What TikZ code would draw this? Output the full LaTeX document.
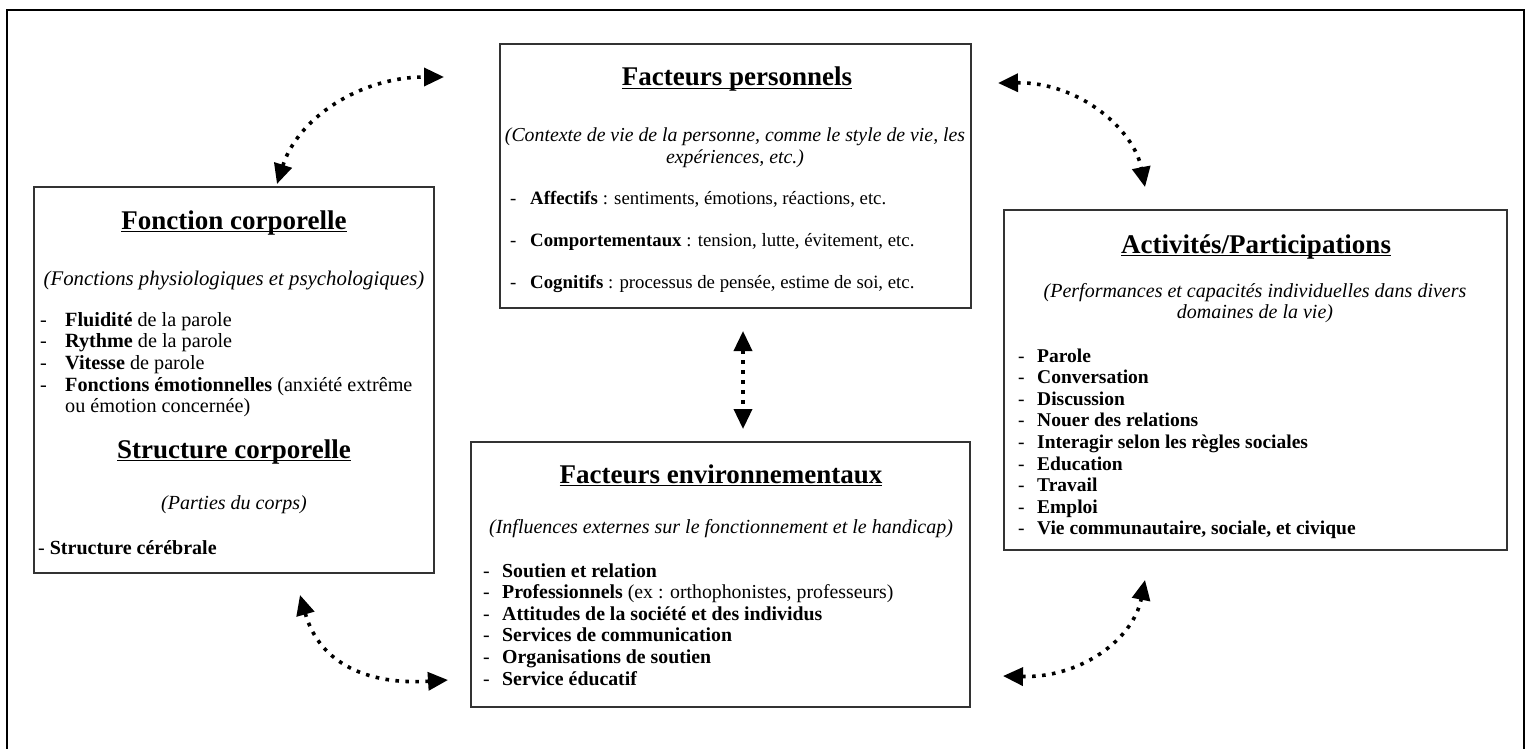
\documentclass[tikz,border=0pt]{standalone}
\usepackage{fontspec}
\setmainfont{Liberation Serif}
\usetikzlibrary{arrows.meta}
\newcommand\ulin[1]{\setbox0\hbox{#1}\rlap{\rule[-3pt]{\wd0}{1.3pt}}\box0}
\newcommand\rows[2]{\begin{tabular}[t]{@{}#1@{}}#2\end{tabular}}
\newcommand\dsh[1][19pt]{\makebox[#1][l]{-}}
\begin{document}
\begin{tikzpicture}[x=1pt,y=-1pt,
  box/.style={draw=black!80, line width=1.4pt, inner sep=0pt},
  ttl/.style={anchor=base, inner sep=0pt, font=\fontsize{27}{30}\selectfont\bfseries},
  sub/.style={anchor=base, inner sep=0pt, font=\fontsize{20}{21.6}\selectfont\itshape},
  lst/.style={anchor=base west, inner sep=0pt, font=\fontsize{19.5}{21.6}\selectfont},
  dotarrow/.style={line width=3.6pt, dash pattern=on 3.6pt off 6.4pt,
    {Triangle[length=20pt,width=18pt]}-{Triangle[length=20pt,width=18pt]}}]
\useasboundingbox (0,0) rectangle (1531,749);
\draw[line width=2pt] (7,760) -- (7,10) -- (1524,10) -- (1524,760);

% boxes
\node[box, minimum width=400pt, minimum height=386pt] (fc) at (234,380) {};
\node[box, minimum width=471pt, minimum height=264pt] (fp) at (735.5,176) {};
\node[box, minimum width=499pt, minimum height=265pt] (fe) at (720.5,574.5) {};
\node[box, minimum width=503pt, minimum height=340pt] (ap) at (1255.5,380) {};

% Fonction corporelle
\node[ttl] (fct) at (234,229) {\ulin{Fonction corporelle}};
\node[sub, font=\fontsize{20.8}{21.6}\selectfont\itshape] (fcs) at (234,285) {(Fonctions physiologiques et psychologiques)};
\node[lst, font=\fontsize{20.2}{21.7}\selectfont] (fcl) at (40,326) {\rows{l}{\dsh[25pt]\textbf{Fluidité} de la parole\\
  \dsh[25pt]\textbf{Rythme} de la parole\\
  \dsh[25pt]\textbf{Vitesse} de parole\\
  \dsh[25pt]\textbf{Fonctions émotionnelles} (anxiété extrême\\
  \hspace{25pt}ou émotion concernée)}};
\node[ttl] (sct) at (234,458) {\ulin{Structure corporelle}};
\node[sub] (scs) at (234,509) {(Parties du corps)};
\node[lst, font=\fontsize{20}{21.6}\selectfont] (scl) at (38,554) {- \textbf{Structure cérébrale}};

% Facteurs personnels
\node[ttl] (fpt) at (737,86) {\ulin{Facteurs personnels}};
\node[sub, font=\fontsize{19.8}{21.6}\selectfont\itshape] (fps) at (735,142) {\rows{c}{(Contexte de vie de la personne, comme le style de vie, les\\ expériences, etc.)}};
\node[lst, font=\fontsize{18.8}{21.6}\selectfont] (fpl1) at (510,204) {\dsh[20pt]\textbf{Affectifs} : sentiments, émotions, réactions, etc.};
\node[lst, font=\fontsize{18.8}{21.6}\selectfont] (fpl2) at (510,246) {\dsh[20pt]\textbf{Comportementaux} : tension, lutte, évitement, etc.};
\node[lst, font=\fontsize{18.8}{21.6}\selectfont] (fpl3) at (510,288) {\dsh[20pt]\textbf{Cognitifs} : processus de pensée, estime de soi, etc.};

% Facteurs environnementaux
\node[ttl] (fet) at (721,483) {\ulin{Facteurs environnementaux}};
\node[sub] (fes) at (721,533) {(Influences externes sur le fonctionnement et le handicap)};
\node[lst, font=\fontsize{19.8}{21.6}\selectfont] (fel) at (483,577) {\rows{l}{\dsh\textbf{Soutien et relation}\\
  \dsh\textbf{Professionnels} (ex : orthophonistes, professeurs)\\
  \dsh\textbf{Attitudes de la société et des individus}\\
  \dsh\textbf{Services de communication}\\
  \dsh\textbf{Organisations de soutien}\\
  \dsh\textbf{Service éducatif}}};

% Activites/Participations
\node[ttl] (apt) at (1256,253) {\ulin{Activités/Participations}};
\node[sub] (aps) at (1255,297) {\rows{c}{(Performances et capacités individuelles dans divers\\ domaines de la vie)}};
\node[lst] (apl) at (1018,362) {\rows{l}{\dsh\textbf{Parole}\\
  \dsh\textbf{Conversation}\\
  \dsh\textbf{Discussion}\\
  \dsh\textbf{Nouer des relations}\\
  \dsh\textbf{Interagir selon les règles sociales}\\
  \dsh\textbf{Education}\\
  \dsh\textbf{Travail}\\
  \dsh\textbf{Emploi}\\
  \dsh\textbf{Vie communautaire, sociale, et civique}}};

% arrows
\coordinate (a1s) at (277,184);
\coordinate (a1e) at (444,77);
\coordinate (a2s) at (998,83);
\coordinate (a2e) at (1145,187);
\coordinate (a3s) at (300,595);
\coordinate (a3e) at (448,680);
\coordinate (a4s) at (1003,676);
\coordinate (a4e) at (1145,580);
\coordinate (a5s) at (743,331);
\coordinate (a5e) at (743,429);
\draw[dotarrow] (a1s) .. controls (298,118) and (360,77) .. (a1e);
\draw[dotarrow] (a2s) .. controls (1080,82) and (1134,130) .. (a2e);
\draw[dotarrow] (a3s) .. controls (320,665) and (370,685) .. (a3e);
\draw[dotarrow] (a4s) .. controls (1080,678) and (1133,640) .. (a4e);
\draw[dotarrow] (a5s) -- (a5e);
\end{tikzpicture}
\end{document}
